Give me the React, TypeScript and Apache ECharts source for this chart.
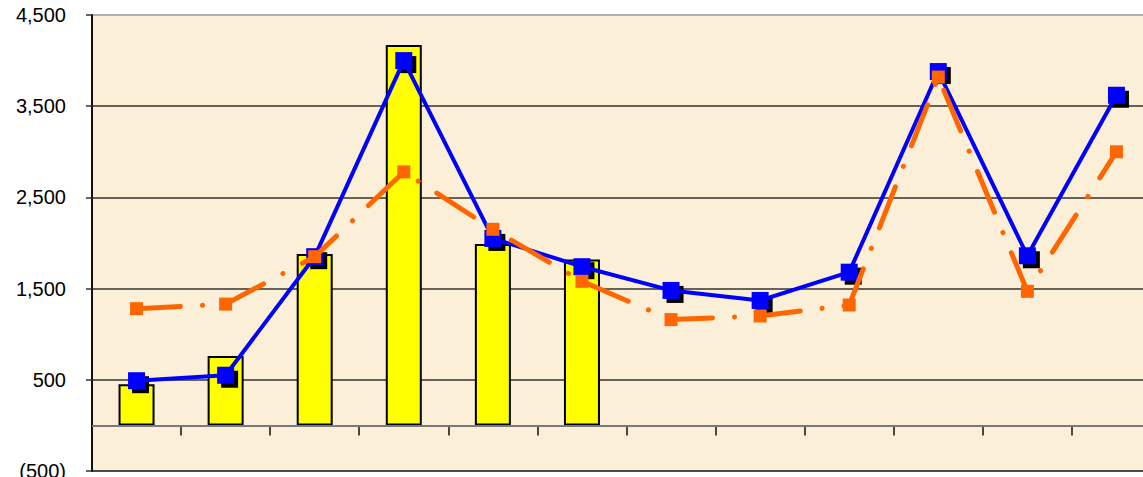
import React, { useEffect, useRef } from "react";
import * as echarts from "echarts";

// Twelve periods along the category axis (labels are not shown).
const categories = ["Jan", "Feb", "Mar", "Apr", "May", "Jun", "Jul", "Aug", "Sep", "Oct", "Nov", "Dec"];

// Yellow columns: only the first six periods carry a value.
const barValues: (number | null)[] = [450, 760, 1880, 4170, 1990, 1820, null, null, null, null, null, null];

// Solid blue line with square markers.
const blueValues = [490, 550, 1850, 4000, 2050, 1740, 1480, 1370, 1680, 3880, 1860, 3620];

// Dash-dot orange line with smaller square markers.
const orangeValues = [1280, 1330, 1850, 2780, 2150, 1580, 1160, 1200, 1320, 3820, 1470, 3000];

// Value axis range and step.
const yMin = -500;
const yMax = 4500;
const yStep = 1000;

function formatTick(v: number): string {
  const s = Math.abs(v).toLocaleString("en-US");
  return v < 0 ? `(${s})` : s;
}

export default function App() {
  const ref = useRef<HTMLDivElement>(null);

  useEffect(() => {
    if (!ref.current) return;
    const chart = echarts.init(ref.current, undefined, { renderer: "svg" });

    chart.setOption({
      animation: false,
      backgroundColor: "#ffffff",
      grid: {
        left: 92,
        top: 15,
        bottom: 6,
        right: -18,
        outerBoundsMode: "none",
        containLabel: false,
        show: true,
        backgroundColor: "#FCEFD7",
        borderWidth: 0,
      },
      xAxis: {
        type: "category",
        data: categories,
        boundaryGap: true,
        axisLine: { show: true, lineStyle: { color: "#111", width: 2 } },
        axisTick: { show: true, length: 10, lineStyle: { color: "#111", width: 1.5 } },
        axisLabel: { show: false },
        splitLine: { show: false },
      },
      yAxis: {
        type: "value",
        min: yMin,
        max: yMax,
        interval: yStep,
        axisLine: { show: true, lineStyle: { color: "#111", width: 2 } },
        axisTick: { show: true, length: 6, lineStyle: { color: "#333", width: 1.5 } },
        axisLabel: {
          margin: 26,
          color: "#000",
          fontFamily: "Liberation Sans, Arial, sans-serif",
          fontSize: 20,
          formatter: (v: number) => formatTick(v),
        },
        splitLine: {
          show: true,
          lineStyle: {
            color: ["#111", "#333333", "#333333", "#333333", "#333333", "#9a9a9a"],
            width: 1.5,
          },
        },
      },
      series: [
        {
          // zero baseline
          type: "line",
          data: [],
          z: 1,
          silent: true,
          markLine: {
            silent: true,
            symbol: "none",
            label: { show: false },
            lineStyle: { color: "#7a7a7a", width: 2, type: "solid" },
            data: [{ yAxis: 0 }],
          },
        },
        {
          type: "bar",
          data: barValues,
          barWidth: 36,
          z: 2,
          itemStyle: { color: "#FFFF00", borderColor: "#000", borderWidth: 2 },
        },
        {
          // drop shadow behind the blue markers
          type: "scatter",
          data: blueValues,
          symbol: "rect",
          symbolSize: 17,
          symbolOffset: [4, 4],
          z: 3,
          silent: true,
          itemStyle: { color: "#000", opacity: 1 },
        },
        {
          type: "line",
          data: blueValues,
          z: 4,
          symbol: "rect",
          symbolSize: 17,
          lineStyle: { color: "#0000FF", width: 4 },
          itemStyle: { color: "#0000FF", borderWidth: 0 },
        },
        {
          type: "line",
          data: orangeValues,
          z: 5,
          symbol: "rect",
          symbolSize: 13,
          lineStyle: {
            color: "#FF6600",
            width: 5,
            cap: "round",
            type: [44, 22, 0.1, 22],
          },
          itemStyle: { color: "#FF6600", borderWidth: 0 },
        },
      ],
    });

    return () => chart.dispose();
  }, []);

  return (
    <div
      ref={ref}
      style={{ position: "absolute", left: 0, top: 0, width: 1143, height: 477 }}
    />
  );
}
